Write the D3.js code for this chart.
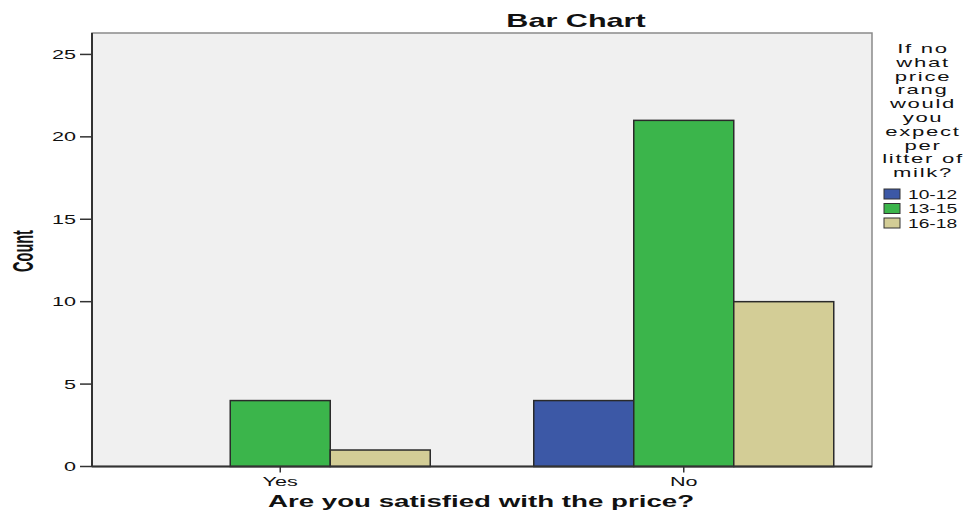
<!DOCTYPE html>
<html><head><meta charset="utf-8">
<script src="https://cdn.jsdelivr.net/npm/d3@7"></script>
<style>body{margin:0;background:#fff;}svg{display:block;font-family:"Liberation Sans",Arial,sans-serif;}</style>
</head><body>
<script>
const categories = ["Yes", "No"];
const seriesNames = ["10-12", "13-15", "16-18"];
const values1012 = [0, 4];
const values1315 = [4, 21];
const values1618 = [1, 10];
const yTicks = [0, 5, 10, 15, 20, 25];
const legendTitle = ["If no", "what", "price", "rang", "would", "you", "expect", "per", "litter of", "milk?"];
const colors = ["#3c58a6", "#3bb54b", "#d3cd96"];
const seriesValues = [values1012, values1315, values1618];

const W = 963, H = 512, SX = 1.6;
const svg = d3.select("body").append("svg").attr("width", W).attr("height", H);
const L = 92, R = 872, T = 33, B = 466.5;

const y = d3.scaleLinear().domain([0, 26.3]).range([B, T]);
const x = d3.scalePoint().domain(categories).range([L, R]).padding(0.4665);
const xs = d3.scaleBand().domain(seriesNames).range([-150, 150]).padding(0);

function stext(g, px, py, txt, size, weight, anchor, sx, ls) {
  const t = g.append("text").attr("transform", `translate(${px},${py}) scale(${sx || SX},1)`)
    .attr("text-anchor", anchor || "middle").attr("font-size", size)
    .attr("font-weight", weight || "normal").attr("fill", "#111").text(txt);
  if (ls) t.attr("letter-spacing", ls);
  return t;
}

// plot background
svg.append("rect").attr("x", L).attr("y", T).attr("width", R - L).attr("height", B - T)
  .attr("fill", "#f0f0f0").attr("stroke", "#8a8a8a").attr("stroke-width", 1.5);

// bars
const data = [];
categories.forEach((c, i) => seriesNames.forEach((s, j) => {
  if (seriesValues[j][i] > 0) data.push({ c, s, v: seriesValues[j][i], col: colors[j] });
}));
svg.append("g").selectAll("rect").data(data).join("rect")
  .attr("x", d => x(d.c) + xs(d.s)).attr("width", xs.bandwidth())
  .attr("y", d => y(d.v)).attr("height", d => y(0) - y(d.v))
  .attr("fill", d => d.col).attr("stroke", "#2a2a2a").attr("stroke-width", 1.5);

// axes lines
svg.append("line").attr("x1", L).attr("x2", L).attr("y1", T).attr("y2", B).attr("stroke", "#333").attr("stroke-width", 2);
svg.append("line").attr("x1", L).attr("x2", R).attr("y1", B).attr("y2", B).attr("stroke", "#333").attr("stroke-width", 2);

// y axis ticks
const gy = svg.append("g");
yTicks.forEach(t => {
  gy.append("line").attr("x1", L - 12).attr("x2", L).attr("y1", y(t)).attr("y2", y(t)).attr("stroke", "#333").attr("stroke-width", 1.5);
  stext(gy, L - 16, y(t) + 4.5, String(t), 12, "normal", "end", 1.8);
});

// x axis ticks
const gx = svg.append("g");
categories.forEach(c => {
  gx.append("line").attr("x1", x(c)).attr("x2", x(c)).attr("y1", B).attr("y2", B + 6).attr("stroke", "#333").attr("stroke-width", 1.5);
  stext(gx, x(c), 486, c, 12, "normal", "middle", 1.8);
});

// titles
stext(svg, 576, 27, "Bar Chart", 18, "bold", "middle", 1.7);
stext(svg, 481, 507, "Are you satisfied with the price?", 17, "bold", "middle", 1.63);
svg.append("text").attr("transform", `translate(33,251) rotate(-90) scale(1,2.0)`)
  .attr("text-anchor", "middle").attr("font-size", 14.5).attr("font-weight", "bold")
  .attr("fill", "#111").text("Count");

// legend
const lg = svg.append("g");
legendTitle.forEach((t, i) => stext(lg, 923, 53 + i * 13.8, t, 13, "normal", "middle", 1.7, 1));
seriesNames.forEach((s, i) => {
  const yy = 189 + i * 14.5;
  lg.append("rect").attr("x", 884).attr("y", yy).attr("width", 16).attr("height", 10)
    .attr("fill", colors[i]).attr("stroke", "#333").attr("stroke-width", 1);
  stext(lg, 908, yy + 9.5, s, 12, "normal", "start");
});
</script>
</body></html>
